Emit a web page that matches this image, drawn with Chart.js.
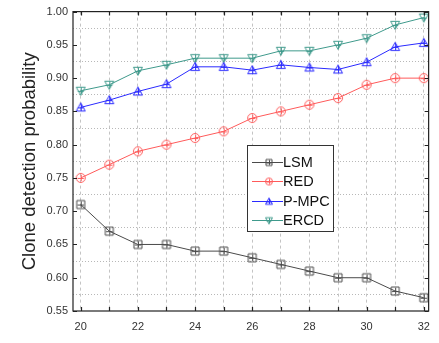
<!DOCTYPE html>
<html>
<head>
<meta charset="utf-8">
<script src="https://cdn.jsdelivr.net/npm/chart.js@4/dist/chart.umd.min.js"></script>
<style>
  html, body { margin: 0; padding: 0; background: #fff; }
</style>
</head>
<body>
<canvas id="chart" width="439" height="343"></canvas>
<script>
// === Data ===
const nodeCounts = [20, 21, 22, 23, 24, 25, 26, 27, 28, 29, 30, 31, 32];
const lsm  = [0.71, 0.67, 0.65, 0.65, 0.64, 0.64, 0.63, 0.62, 0.61, 0.60, 0.60, 0.58, 0.57];
const red  = [0.75, 0.77, 0.79, 0.80, 0.81, 0.82, 0.84, 0.85, 0.86, 0.87, 0.89, 0.90, 0.90];
const pmpc = [0.856, 0.867, 0.88, 0.891, 0.917, 0.917, 0.912, 0.92, 0.916, 0.913, 0.924, 0.947, 0.953];
const ercd = [0.881, 0.89, 0.911, 0.92, 0.93, 0.93, 0.93, 0.941, 0.941, 0.95, 0.96, 0.98, 0.991];
const seriesNames = ["LSM", "RED", "P-MPC", "ERCD"];
const yTicks = [0.55, 0.575, 0.60, 0.625, 0.65, 0.675, 0.70, 0.725, 0.75, 0.775, 0.80,
                0.825, 0.85, 0.875, 0.90, 0.925, 0.95, 0.975, 1.00];
const xTicks = nodeCounts;

const colors = ["#4a4a4a", "#ff5a5a", "#2a2aff", "#3f9a8c"];
const shapes = ["square", "circle", "triangle", "triangleDown"];

// === Marker images (hollow shape with a plus inside) ===
function makeMarker(shape, color, size) {
  const c = document.createElement("canvas");
  c.width = size;
  c.height = size;
  const g = c.getContext("2d");
  const m = size / 2;
  const r = size / 2 - 1.5;
  g.strokeStyle = color;
  g.lineWidth = 1;
  g.beginPath();
  if (shape === "square") {
    g.rect(m - r + 0.5, m - r + 0.5, 2 * r - 1, 2 * r - 1);
  } else if (shape === "circle") {
    g.arc(m, m, r, 0, Math.PI * 2);
  } else if (shape === "triangle") {
    g.moveTo(m, m - r);
    g.lineTo(m + r, m + r * 0.8);
    g.lineTo(m - r, m + r * 0.8);
    g.closePath();
  } else {
    g.moveTo(m, m + r);
    g.lineTo(m + r, m - r * 0.8);
    g.lineTo(m - r, m - r * 0.8);
    g.closePath();
  }
  g.stroke();
  g.beginPath();
  const p = r * 0.7;
  g.moveTo(m - p, m + 0.5);
  g.lineTo(m + p, m + 0.5);
  g.moveTo(m + 0.5, m - p);
  g.lineTo(m + 0.5, m + p);
  g.stroke();
  return c;
}

const allValues = [lsm, red, pmpc, ercd];
const datasets = allValues.map((vals, i) => ({
  label: seriesNames[i],
  data: nodeCounts.map((x, j) => ({ x: x, y: vals[j] })),
  borderColor: colors[i],
  borderWidth: 1,
  pointStyle: makeMarker(shapes[i], colors[i], 12),
  pointRadius: 6,
  fill: false,
  tension: 0,
}));

// === Frame, inward ticks and legend box ===
const frameAndLegend = {
  id: "frameAndLegend",
  afterDraw(chart) {
    const ctx = chart.ctx;
    const a = chart.chartArea;
    const xs = chart.scales.x;
    const ys = chart.scales.y;
    ctx.save();
    ctx.strokeStyle = "#222";
    ctx.lineWidth = 1.2;
    ctx.strokeRect(a.left, a.top, a.right - a.left, a.bottom - a.top);
    ctx.beginPath();
    xTicks.forEach((v) => {
      const px = Math.round(xs.getPixelForValue(v)) + 0.5;
      ctx.moveTo(px, a.bottom);
      ctx.lineTo(px, a.bottom - 4);
      ctx.moveTo(px, a.top);
      ctx.lineTo(px, a.top + 4);
    });
    yTicks.forEach((v, i) => {
      if (i % 2) return;
      const py = Math.round(ys.getPixelForValue(v)) + 0.5;
      ctx.moveTo(a.left, py);
      ctx.lineTo(a.left + 4, py);
      ctx.moveTo(a.right, py);
      ctx.lineTo(a.right - 4, py);
    });
    ctx.stroke();

    // legend
    const bx = 247, by = 145, bw = 86, bh = 86;
    ctx.fillStyle = "#fff";
    ctx.fillRect(bx, by, bw, bh);
    ctx.strokeStyle = "#333";
    ctx.lineWidth = 1;
    ctx.strokeRect(bx + 0.5, by + 0.5, bw, bh);
    ctx.font = "14.5px 'Liberation Sans', Arial, sans-serif";
    ctx.textBaseline = "middle";
    ctx.textAlign = "left";
    seriesNames.forEach((name, i) => {
      const y = 162 + i * 19.3;
      ctx.strokeStyle = colors[i];
      ctx.beginPath();
      ctx.moveTo(252, Math.round(y) + 0.5);
      ctx.lineTo(283, Math.round(y) + 0.5);
      ctx.stroke();
      const img = makeMarker(shapes[i], colors[i], 10);
      ctx.drawImage(img, 269 - 5, Math.round(y) - 5 + 0.5);
      ctx.fillStyle = "#111";
      ctx.fillText(name, 283, y + 1);
    });
    ctx.restore();
  },
};

new Chart(document.getElementById("chart"), {
  type: "line",
  data: { datasets: datasets },
  options: {
    responsive: false,
    animation: false,
    layout: { padding: { left: 19, right: 8, top: 11, bottom: 0 } },
    plugins: { legend: { display: false }, tooltip: { enabled: false } },
    scales: {
      x: {
        type: "linear",
        min: 19.73,
        max: 32.17,
        afterBuildTicks: (s) => { s.ticks = xTicks.map((v) => ({ value: v })); },
        afterFit: (s) => { s.height = 32; },
        grid: {
          drawTicks: false,
          color: "#c4c4c4",
          lineWidth: 1,
        },
        border: { display: false, dash: [3, 3] },
        ticks: {
          padding: 9,
          color: "#333",
          font: { family: "'Liberation Sans', Arial, sans-serif", size: 11 },
          callback: (v) => (v % 2 === 0 ? String(v) : ""),
          maxRotation: 0,
          autoSkip: false,
        },
      },
      y: {
        min: 0.55,
        max: 1.0,
        afterBuildTicks: (s) => { s.ticks = yTicks.map((v) => ({ value: v })); },
        afterFit: (s) => { s.width = 54; },
        grid: {
          drawTicks: false,
          color: (c) => (c.index % 2 ? "#b8b8b8" : "rgba(0,0,0,0)"),
          lineWidth: 1,
        },
        border: { display: false, dash: [1, 2] },
        ticks: {
          padding: 5,
          color: "#333",
          font: { family: "'Liberation Sans', Arial, sans-serif", size: 11 },
          callback: (v, i) => (i % 2 ? "" : v.toFixed(2)),
          autoSkip: false,
        },
        title: {
          display: true,
          text: "Clone detection probability",
          color: "#222",
          font: { family: "'Liberation Sans', Arial, sans-serif", size: 18.5 },
          padding: { top: 0, bottom: 4 },
        },
      },
    },
  },
  plugins: [frameAndLegend],
});
</script>
</body>
</html>
